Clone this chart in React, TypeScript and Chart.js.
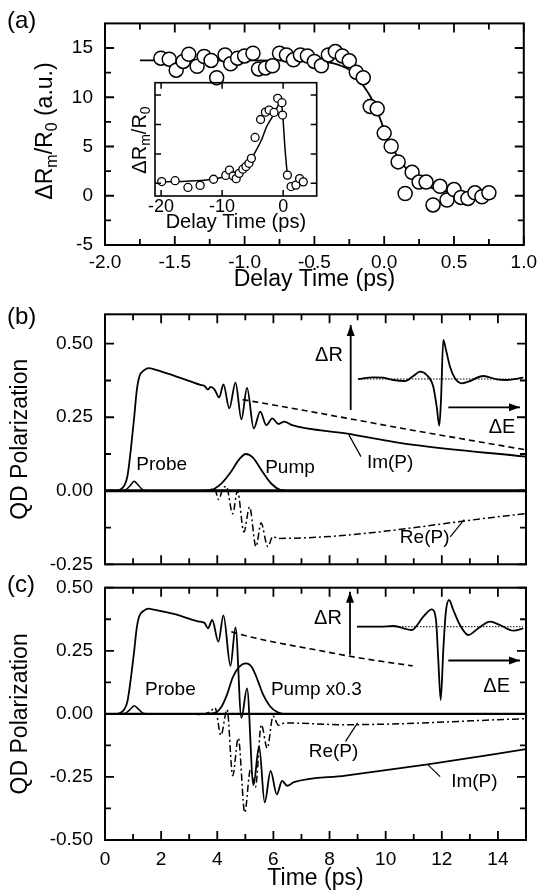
import { useEffect, useRef } from 'react';
import { Chart, registerables } from 'chart.js';

Chart.register(...registerables);

const PAGE_W = 543;
const PAGE_H = 890;
const FONT = "'Liberation Sans', Arial, Helvetica, sans-serif";
const LEFT = 105;
const RIGHT = 526;

// ---------- Panel (a): main ----------
const A_DELAY = [-1.60, -1.54, -1.49, -1.44, -1.40, -1.34, -1.29, -1.24, -1.20, -1.14, -1.10, -1.05, -1.00, -0.94, -0.90, -0.85, -0.80, -0.75, -0.70, -0.65, -0.60, -0.55, -0.50, -0.45, -0.40, -0.35, -0.30, -0.25, -0.20, -0.15, -0.10, -0.05, 0.00, 0.05, 0.10, 0.15, 0.20, 0.25, 0.30, 0.35, 0.40, 0.45, 0.50, 0.55, 0.60, 0.65, 0.70, 0.75];
const A_SIGNAL = [13.97, 13.87, 12.75, 13.64, 14.37, 13.15, 14.14, 13.74, 11.99, 14.3, 13.4, 13.97, 14.2, 14.47, 12.88, 12.98, 13.2, 14.47, 14.3, 13.8, 14.3, 14.2, 13.64, 13.2, 14.3, 14.64, 14.2, 13.7, 12.55, 11.99, 9.07, 8.84, 6.36, 5.03, 3.44, 0.23, 2.38, 1.39, 1.39, -0.93, 0.96, -0.43, 0.63, -0.17, -0.27, 0.3, -0.1, 0.3];
const A_FIT_DELAY = [-1.75, -1.0, -0.6, -0.45, -0.35, -0.3, -0.25, -0.2, -0.15, -0.1, -0.05, 0.0, 0.05, 0.1, 0.15, 0.2, 0.25, 0.3, 0.35, 0.4, 0.45, 0.5];
const A_FIT_SIGNAL = [13.75, 13.75, 13.72, 13.62, 13.4, 13.15, 12.8, 12.2, 11.2, 10.1, 8.6, 6.7, 5.1, 3.9, 2.9, 2.1, 1.5, 1.05, 0.75, 0.55, 0.4, 0.3];
const A_X_TICKS = [-2, -1.5, -1, -0.5, 0, 0.5, 1];
const A_X_MINOR = [-1.75, -1.25, -0.75, -0.25, 0.25, 0.75];
const A_Y_TICKS = [-5, 0, 5, 10, 15];
const A_Y_MINOR = [-2.5, 2.5, 7.5, 12.5];

// ---------- Panel (a): inset ----------
const AI_DELAY = [-19.9, -17.7, -15.6, -13.6, -11.4, -9.4, -8.8, -8.2, -7.7, -7.2, -6.6, -6.1, -5.6, -5.2, -4.6, -3.7, -2.9, -2.3, -1.5, -0.9, -0.2, -0.1, 0.7, 1.3, 2.1, 2.7, 3.3];
const AI_SIGNAL = [1.06, 1.09, 0.86, 0.93, 1.14, 1.27, 1.45, 1.25, 1.16, 1.34, 1.48, 1.57, 1.68, 1.85, 2.56, 3.17, 3.42, 3.49, 3.41, 3.89, 3.74, 3.32, 1.28, 0.89, 0.94, 1.16, 1.05];
const AI_FIT_DELAY = [-20, -16, -12, -9, -7, -5.5, -4.4, -3.5, -2.7, -1.6, -0.8, -0.45, -0.1, 0.3, 0.75];
const AI_FIT_SIGNAL = [1.05, 1.07, 1.13, 1.26, 1.45, 1.75, 2.13, 2.5, 2.93, 3.32, 3.66, 3.85, 3.4, 2.2, 1.15];
const AI_X_TICKS = [-20, -10, 0];
const AI_Y_TICKS = [1, 2, 3, 4];

// ---------- Panels (b) and (c): shared ----------
const T_TICKS = [0, 2, 4, 6, 8, 10, 12, 14];
const T_MINOR = [1, 3, 5, 7, 9, 11, 13];
const ZERO_T = [0, 15];
const ZERO_P = [0, 0];
const PROBE_T = [0.6, 0.75, 0.92, 1.04, 1.16, 1.35, 1.5];
const PROBE_P = [0, 0.004, 0.02, 0.032, 0.022, 0.003, 0];

// ---------- Panel (b) ----------
const B_IM_T = [0, 0.4, 0.55, 0.7, 0.8, 0.92, 1.04, 1.13, 1.22, 1.4, 1.55, 1.75, 2.5, 3.4, 3.55, 3.67, 3.76, 3.9, 4.07, 4.22, 4.43, 4.65, 4.86, 5.06, 5.3, 5.53, 5.75, 5.96, 6.18, 6.39, 6.67, 8.57, 11.0, 15];
const B_IM_P = [0, 0, 0.004, 0.02, 0.05, 0.14, 0.25, 0.34, 0.387, 0.41, 0.417, 0.413, 0.39, 0.36, 0.356, 0.344, 0.353, 0.345, 0.317, 0.362, 0.28, 0.368, 0.243, 0.35, 0.212, 0.269, 0.223, 0.246, 0.227, 0.235, 0.223, 0.195, 0.156, 0.116];
const B_DASH_T = [4.9, 6.1, 8.6, 11.0, 13.0, 15];
const B_DASH_P = [0.31, 0.29, 0.247, 0.205, 0.172, 0.139];
const B_RE_T = [3.4, 3.7, 3.9, 4.05, 4.2, 4.32, 4.55, 4.72, 4.95, 5.15, 5.38, 5.56, 5.8, 5.98, 6.15, 15];
const B_RE_P = [0, 0.002, 0.008, -0.03, 0.008, 0.015, -0.078, 0.0, -0.14, -0.055, -0.19, -0.11, -0.19, -0.155, -0.162, -0.078];
const B_PUMP_T = [3.5, 3.8, 4.16, 4.47, 4.78, 5.02, 5.27, 5.63, 5.94, 6.24, 6.5];
const B_PUMP_P = [0, 0.003, 0.026, 0.062, 0.107, 0.125, 0.113, 0.062, 0.023, 0.003, 0];
const B_IM_LEAD_T = [8.69, 9.12];
const B_IM_LEAD_P = [0.19, 0.116];
const B_RE_LEAD_T = [12.3, 12.8];
const B_RE_LEAD_P = [-0.157, -0.098];
const B_Y_TICKS = [-0.25, 0, 0.25, 0.5];
const B_Y_MINOR = [-0.125, 0.125, 0.375];

// ---------- Panel (c) ----------
const C_IM_T = [0, 0.4, 0.55, 0.7, 0.8, 0.92, 1.04, 1.13, 1.22, 1.4, 1.55, 1.75, 2.45, 3.31, 3.55, 3.67, 3.82, 4.04, 4.22, 4.47, 4.65, 4.86, 5.06, 5.29, 5.49, 5.69, 5.9, 6.12, 6.31, 6.49, 6.73, 8.57, 11.5, 15];
const C_IM_P = [0, 0, 0.004, 0.02, 0.05, 0.14, 0.25, 0.34, 0.387, 0.41, 0.417, 0.413, 0.396, 0.367, 0.36, 0.339, 0.372, 0.286, 0.39, 0.19, 0.343, -0.016, 0.101, -0.282, -0.129, -0.351, -0.226, -0.319, -0.266, -0.285, -0.271, -0.245, -0.2, -0.14];
const C_DASH_T = [4.5, 4.78, 6.0, 7.35, 9.0, 10.96];
const C_DASH_P = [0.325, 0.316, 0.285, 0.257, 0.223, 0.19];
const C_RE_T = [2.94, 3.43, 3.73, 3.92, 4.13, 4.35, 4.55, 4.75, 4.98, 5.18, 5.36, 5.57, 5.78, 5.99, 6.18, 6.39, 8.57, 15];
const C_RE_P = [0, -0.003, 0.008, 0.024, -0.085, 0.017, -0.245, -0.096, -0.391, -0.222, -0.29, -0.043, -0.136, -0.009, -0.045, -0.036, -0.043, -0.019];
const C_PUMP_T = [3.6, 3.92, 4.16, 4.35, 4.55, 4.78, 5.02, 5.24, 5.45, 5.63, 5.88, 6.12, 6.3, 6.5];
const C_PUMP_P = [0, 0.004, 0.03, 0.077, 0.144, 0.186, 0.2, 0.184, 0.13, 0.077, 0.03, 0.008, 0.001, 0];
const C_RE_LEAD_T = [8.57, 9.0];
const C_RE_LEAD_P = [-0.109, -0.036];
const C_IM_LEAD_T = [11.94, 11.51];
const C_IM_LEAD_P = [-0.249, -0.202];
const C_Y_TICKS = [-0.5, -0.25, 0, 0.25, 0.5];
const C_Y_MINOR = [-0.375, -0.125, 0.125, 0.375];

// ---------- Spectrum insets (arbitrary units) ----------
const SB_E = [-8.27, -6.77, -5.77, -4.77, -3.6, -2.77, -2.1, -1.43, -0.77, -0.43, -0.17, 0, 0.23, 0.5, 0.9, 1.4, 2.07, 2.73, 4.23, 5.57, 6.57, 8.23];
const SB_R = [0, 0.17, 0.13, -0.1, -0.2, 0.3, 0.73, 0.4, -0.77, -2.77, -4.67, -2.1, 3.9, 2.9, 1.23, 0.07, -0.43, -0.27, 0.3, -0.03, -0.1, 0.13];
const SB_BASE_E = [-8.3, 8.2];
const SB_AXIS_R_E = [-9.03, -9.03];
const SB_AXIS_R_R = [-3.1, 5.4];
const SB_AXIS_E_E = [0.73, 7.9];
const SB_AXIS_E_R = [-2.83, -2.83];

const SC_E = [-8.4, -6.1, -4.77, -2.93, -1.77, -0.93, -0.5, -0.27, -0.03, 0.23, 0.47, 0.8, 1.23, 1.9, 2.73, 3.73, 4.9, 5.9, 7.23, 8.23];
const SC_R = [0, 0, 0.07, -0.33, 1.0, 1.74, 0.67, -3.33, -7.33, -2.33, 1.34, 2.67, 1.67, 0.17, -0.83, -0.16, 0.5, 0.17, -0.4, -0.16];
const SC_BASE_E = [-8.4, 8.2];
const SC_AXIS_R_E = [-9.1, -9.1];
const SC_AXIS_R_R = [-2.8, 3.5];
const SC_AXIS_E_E = [0.73, 7.9];
const SC_AXIS_E_R = [-3.38, -3.38];

// ---------- helpers ----------
const pts = (xs: number[], ys: number[]) => xs.map((x, i) => ({ x, y: ys[i] }));
const flat = (xs: number[], v: number) => xs.map((x) => ({ x, y: v }));

function line(data: any[], extra: any = {}) {
  return {
    data,
    borderColor: '#000',
    backgroundColor: '#000',
    borderWidth: 1.8,
    pointRadius: 0,
    fill: false,
    cubicInterpolationMode: 'monotone',
    ...extra,
  };
}

function makeFrame(o: any) {
  return {
    id: 'frameTicks',
    afterDatasetsDraw(chart: any) {
      const { ctx, chartArea: a, scales } = chart;
      const sx = scales.x;
      const sy = scales.y;
      ctx.save();
      ctx.strokeStyle = '#000';
      ctx.lineWidth = o.tickWidth;
      ctx.beginPath();
      const vx = (vals: number[], len: number) =>
        vals.forEach((v) => {
          const p = sx.getPixelForValue(v);
          ctx.moveTo(p, a.bottom);
          ctx.lineTo(p, a.bottom - len);
          ctx.moveTo(p, a.top);
          ctx.lineTo(p, a.top + len);
        });
      const vy = (vals: number[], len: number) =>
        vals.forEach((v) => {
          const p = sy.getPixelForValue(v);
          ctx.moveTo(a.left, p);
          ctx.lineTo(a.left + len, p);
          ctx.moveTo(a.right, p);
          ctx.lineTo(a.right - len, p);
        });
      vx(o.xMajor || [], o.major);
      vx(o.xMinor || [], o.minor);
      vy(o.yMajor || [], o.major);
      vy(o.yMinor || [], o.minor);
      ctx.stroke();
      ctx.lineWidth = o.frameWidth;
      ctx.strokeRect(a.left, a.top, a.right - a.left, a.bottom - a.top);
      ctx.restore();
    },
  };
}

function drawRich(ctx: any, r: any) {
  const big = `${r.size}px ${FONT}`;
  const small = `${Math.round(r.size * 0.68)}px ${FONT}`;
  let total = 0;
  const widths = r.parts.map((p: any) => {
    ctx.font = p.sub ? small : big;
    const w = ctx.measureText(p.t).width;
    total += w;
    return w;
  });
  ctx.save();
  ctx.translate(r.cx, r.cy);
  if (r.rotate) ctx.rotate(-Math.PI / 2);
  ctx.textAlign = 'left';
  ctx.textBaseline = 'alphabetic';
  let x = -total / 2;
  const base = r.size * 0.36;
  r.parts.forEach((p: any, i: number) => {
    ctx.font = p.sub ? small : big;
    ctx.fillText(p.t, x, base + (p.sub ? r.size * 0.22 : 0));
    x += widths[i];
  });
  ctx.restore();
}

function makeAnnot(items: any[], rich: any[] = []) {
  return {
    id: 'annotText',
    afterDraw(chart: any) {
      const { ctx, scales } = chart;
      ctx.save();
      ctx.fillStyle = '#000';
      items.forEach((it) => {
        ctx.font = `${it.size || 19}px ${FONT}`;
        ctx.textAlign = it.align || 'center';
        ctx.textBaseline = 'middle';
        const x = it.page ? it.x : scales.x.getPixelForValue(it.x);
        const y = it.page ? it.y : scales.y.getPixelForValue(it.y);
        ctx.fillText(it.text, x, y);
      });
      rich.forEach((r) => drawRich(ctx, r));
      ctx.restore();
    },
  };
}

const arrowPlugin = {
  id: 'arrowHeads',
  afterDatasetsDraw(chart: any) {
    const ctx = chart.ctx;
    chart.data.datasets.forEach((ds: any, i: number) => {
      if (!ds.arrowHead) return;
      const el = chart.getDatasetMeta(i).data;
      const p1 = el[el.length - 2];
      const p2 = el[el.length - 1];
      const ang = Math.atan2(p2.y - p1.y, p2.x - p1.x);
      const L = 11;
      const w = 4;
      const c = Math.cos(ang);
      const s = Math.sin(ang);
      ctx.save();
      ctx.fillStyle = '#000';
      ctx.beginPath();
      ctx.moveTo(p2.x, p2.y);
      ctx.lineTo(p2.x - L * c + w * s, p2.y - L * s - w * c);
      ctx.lineTo(p2.x - L * c - w * s, p2.y - L * s + w * c);
      ctx.closePath();
      ctx.fill();
      ctx.restore();
    });
  },
};

function mainChart(o: any) {
  return {
    type: 'line',
    data: { datasets: o.datasets },
    plugins: [makeFrame(o.frame), makeAnnot(o.texts || [], o.rich || []), arrowPlugin],
    options: {
      responsive: false,
      animation: false,
      devicePixelRatio: 1,
      events: [],
      layout: {
        padding: { left: 0, right: PAGE_W - o.right, top: o.top, bottom: PAGE_H - o.bottom - o.axisH },
      },
      plugins: { legend: { display: false }, tooltip: { enabled: false } },
      scales: {
        x: {
          type: 'linear',
          min: o.x.min,
          max: o.x.max,
          grid: { display: false, drawTicks: false },
          border: { display: false },
          ticks: {
            display: !!o.x.labels,
            font: { family: FONT, size: o.x.size || 19 },
            color: '#000',
            padding: o.x.pad || 0,
            maxRotation: 0,
            autoSkip: false,
            callback: o.x.fmt,
          },
          title: o.x.title
            ? { display: true, text: o.x.title, font: { family: FONT, size: o.x.titleSize || 23 }, color: '#000', padding: { top: 0, bottom: 0 } }
            : { display: false },
          afterBuildTicks: (s: any) => {
            s.ticks = o.x.ticks.map((v: number) => ({ value: v }));
          },
          afterFit: (s: any) => {
            s.height = o.axisH;
          },
        },
        y: {
          type: 'linear',
          min: o.y.min,
          max: o.y.max,
          grid: { display: false, drawTicks: false },
          border: { display: false },
          ticks: {
            display: !!o.y.labels,
            font: { family: FONT, size: 19 },
            color: '#000',
            padding: 12,
            callback: o.y.fmt,
          },
          title: o.y.title
            ? { display: true, text: o.y.title, font: { family: FONT, size: 23 }, color: '#000', padding: { top: 7, bottom: 0 } }
            : { display: false },
          afterBuildTicks: (s: any) => {
            s.ticks = o.y.ticks.map((v: number) => ({ value: v }));
          },
          afterFit: (s: any) => {
            s.width = o.left;
          },
        },
      },
    },
  };
}

function spectrumChart(o: any) {
  return {
    type: 'line',
    data: { datasets: o.datasets },
    plugins: [makeAnnot(o.texts), arrowPlugin],
    options: {
      responsive: false,
      animation: false,
      devicePixelRatio: 1,
      events: [],
      layout: { padding: { left: o.left, right: PAGE_W - o.right, top: o.top, bottom: PAGE_H - o.bottom } },
      plugins: { legend: { display: false }, tooltip: { enabled: false } },
      scales: {
        x: { type: 'linear', display: false, min: o.xMin, max: o.xMax },
        y: { type: 'linear', display: false, min: o.yMin, max: o.yMax },
      },
    },
  };
}

const dashed = { borderDash: [6, 4], borderWidth: 1.6 };
const dashDot = { borderDash: [7, 3, 2, 3], borderWidth: 1.5 };
const thin = { borderWidth: 1.2, cubicInterpolationMode: 'default', tension: 0 };

// ---------- configs ----------
const cfgA = mainChart({
  left: LEFT,
  right: RIGHT,
  top: 18.5,
  bottom: 245,
  axisH: 48,
  x: { min: -2, max: 1, ticks: A_X_TICKS, labels: true, pad: 6, fmt: (v: number) => Number(v).toFixed(1), title: 'Delay Time (ps)' },
  y: { min: -5, max: 17.5, ticks: A_Y_TICKS, labels: true, fmt: (v: number) => String(v) },
  frame: { xMajor: A_X_TICKS, xMinor: A_X_MINOR, yMajor: A_Y_TICKS, yMinor: A_Y_MINOR, major: 9, minor: 6, tickWidth: 1.8, frameWidth: 2 },
  datasets: [
    {
      data: pts(A_DELAY, A_SIGNAL),
      showLine: false,
      pointRadius: 7,
      pointBorderWidth: 1.5,
      pointBackgroundColor: '#fff',
      pointBorderColor: '#000',
      borderColor: '#000',
    },
    line(pts(A_FIT_DELAY, A_FIT_SIGNAL), { borderWidth: 1.8 }),
  ],
  texts: [{ text: '(a)', x: 7, y: 21, page: true, align: 'left', size: 24 }],
  rich: [
    {
      cx: 44,
      cy: 131,
      size: 23,
      rotate: true,
      parts: [{ t: 'ΔR' }, { t: 'm', sub: true }, { t: '/R' }, { t: '0', sub: true }, { t: ' (a.u.)' }],
    },
  ],
});

const cfgAI = mainChart({
  left: 155,
  right: 316.7,
  top: 82.7,
  bottom: 196,
  axisH: 38,
  x: { min: -21, max: 5.5, ticks: AI_X_TICKS, labels: true, pad: 0, size: 18, titleSize: 20, fmt: (v: number) => String(v), title: 'Delay Time (ps)' },
  y: { min: 0.57, max: 4.42, ticks: AI_Y_TICKS, labels: false },
  frame: { xMajor: AI_X_TICKS, xMinor: [], yMajor: AI_Y_TICKS, yMinor: [], major: 6, minor: 4, tickWidth: 1.5, frameWidth: 1.6 },
  datasets: [
    {
      data: pts(AI_DELAY, AI_SIGNAL),
      showLine: false,
      pointRadius: 4,
      pointBorderWidth: 1.3,
      pointBackgroundColor: '#fff',
      pointBorderColor: '#000',
      borderColor: '#000',
    },
    line(pts(AI_FIT_DELAY, AI_FIT_SIGNAL), { borderWidth: 1.5 }),
  ],
  texts: [],
  rich: [
    {
      cx: 138.5,
      cy: 140,
      size: 20,
      rotate: true,
      parts: [{ t: 'ΔR' }, { t: 'm', sub: true }, { t: '/R' }, { t: '0', sub: true }],
    },
  ],
});

const cfgB = mainChart({
  left: LEFT,
  right: RIGHT,
  top: 314.3,
  bottom: 564.3,
  axisH: 4,
  x: { min: 0, max: 15, ticks: T_TICKS, labels: false, fmt: (v: number) => String(v) },
  y: { min: -0.25, max: 0.6, ticks: B_Y_TICKS, labels: true, fmt: (v: number) => Number(v).toFixed(2), title: 'QD Polarization' },
  frame: { xMajor: T_TICKS, xMinor: T_MINOR, yMajor: B_Y_TICKS, yMinor: B_Y_MINOR, major: 9, minor: 6, tickWidth: 1.8, frameWidth: 2 },
  datasets: [
    line(pts(ZERO_T, ZERO_P), { borderWidth: 3, cubicInterpolationMode: 'default' }),
    line(pts(B_IM_T, B_IM_P)),
    line(pts(B_DASH_T, B_DASH_P), dashed),
    line(pts(B_RE_T, B_RE_P), dashDot),
    line(pts(PROBE_T, PROBE_P), { borderWidth: 1.5 }),
    line(pts(B_PUMP_T, B_PUMP_P)),
    line(pts(B_IM_LEAD_T, B_IM_LEAD_P), thin),
    line(pts(B_RE_LEAD_T, B_RE_LEAD_P), thin),
  ],
  texts: [
    { text: '(b)', x: 7, y: 317, page: true, align: 'left', size: 24 },
    { text: 'Probe', x: 2.02, y: 0.088 },
    { text: 'Pump', x: 6.59, y: 0.077 },
    { text: 'Im(P)', x: 10.16, y: 0.094 },
    { text: 'Re(P)', x: 11.39, y: -0.16 },
  ],
});

const cfgBI = spectrumChart({
  left: 330,
  right: 530,
  top: 318,
  bottom: 435,
  xMin: -11.1,
  xMax: 8.9,
  yMin: -5.6,
  yMax: 6.1,
  datasets: [
    line(pts(SB_E, SB_R), { borderWidth: 1.8 }),
    line(flat(SB_BASE_E, 0), { borderWidth: 1, borderDash: [1.5, 1.5], cubicInterpolationMode: 'default' }),
    line(pts(SB_AXIS_R_E, SB_AXIS_R_R), { borderWidth: 1.8, cubicInterpolationMode: 'default', arrowHead: true }),
    line(pts(SB_AXIS_E_E, SB_AXIS_E_R), { borderWidth: 1.8, cubicInterpolationMode: 'default', arrowHead: true }),
  ],
  texts: [
    { text: 'ΔR', x: -11.2, y: 2.4, size: 20 },
    { text: 'ΔE', x: 6.1, y: -4.8, size: 20 },
  ],
});

const cfgC = mainChart({
  left: LEFT,
  right: RIGHT,
  top: 587.7,
  bottom: 840,
  axisH: 52,
  x: { min: 0, max: 15, ticks: T_TICKS, labels: true, pad: 8, fmt: (v: number) => String(v), title: 'Time (ps)' },
  y: { min: -0.5, max: 0.5, ticks: C_Y_TICKS, labels: true, fmt: (v: number) => Number(v).toFixed(2), title: 'QD Polarization' },
  frame: { xMajor: T_TICKS, xMinor: T_MINOR, yMajor: C_Y_TICKS, yMinor: C_Y_MINOR, major: 9, minor: 6, tickWidth: 1.8, frameWidth: 2 },
  datasets: [
    line(pts(ZERO_T, ZERO_P), { borderWidth: 2.2, cubicInterpolationMode: 'default' }),
    line(pts(C_IM_T, C_IM_P)),
    line(pts(C_DASH_T, C_DASH_P), dashed),
    line(pts(C_RE_T, C_RE_P), dashDot),
    line(pts(PROBE_T, PROBE_P), { borderWidth: 1.5 }),
    line(pts(C_PUMP_T, C_PUMP_P)),
    line(pts(C_RE_LEAD_T, C_RE_LEAD_P), thin),
    line(pts(C_IM_LEAD_T, C_IM_LEAD_P), thin),
  ],
  texts: [
    { text: '(c)', x: 7, y: 585, page: true, align: 'left', size: 24 },
    { text: 'Probe', x: 2.33, y: 0.097 },
    { text: 'Pump x0.3', x: 7.53, y: 0.097 },
    { text: 'Re(P)', x: 8.14, y: -0.149 },
    { text: 'Im(P)', x: 13.16, y: -0.27 },
  ],
});

const cfgCI = spectrumChart({
  left: 330,
  right: 530,
  top: 585,
  bottom: 715,
  xMin: -11.1,
  xMax: 8.9,
  yMin: -8.83,
  yMax: 4.17,
  datasets: [
    line(pts(SC_E, SC_R), { borderWidth: 1.8 }),
    line(flat(SC_BASE_E, 0), { borderWidth: 1, borderDash: [1.5, 1.5], cubicInterpolationMode: 'default' }),
    line(pts(SC_AXIS_R_E, SC_AXIS_R_R), { borderWidth: 1.8, cubicInterpolationMode: 'default', arrowHead: true }),
    line(pts(SC_AXIS_E_E, SC_AXIS_E_R), { borderWidth: 1.8, cubicInterpolationMode: 'default', arrowHead: true }),
  ],
  texts: [
    { text: 'ΔR', x: -11.3, y: 0.8, size: 20 },
    { text: 'ΔE', x: 5.57, y: -5.93, size: 20 },
  ],
});

const CONFIGS = [cfgA, cfgAI, cfgB, cfgBI, cfgC, cfgCI];

export default function App() {
  const canvases = useRef<(HTMLCanvasElement | null)[]>([]);

  useEffect(() => {
    const charts = CONFIGS.map((cfg, i) => new Chart(canvases.current[i] as HTMLCanvasElement, cfg as any));
    return () => charts.forEach((c) => c.destroy());
  }, []);

  return (
    <div style={{ position: 'absolute', left: 0, top: 0, width: PAGE_W, height: PAGE_H, background: '#fff', overflow: 'hidden' }}>
      {CONFIGS.map((_, i) => (
        <canvas
          key={i}
          ref={(el) => {
            canvases.current[i] = el;
          }}
          width={PAGE_W}
          height={PAGE_H}
          style={{ position: 'absolute', left: 0, top: 0, width: PAGE_W, height: PAGE_H }}
        />
      ))}
    </div>
  );
}
